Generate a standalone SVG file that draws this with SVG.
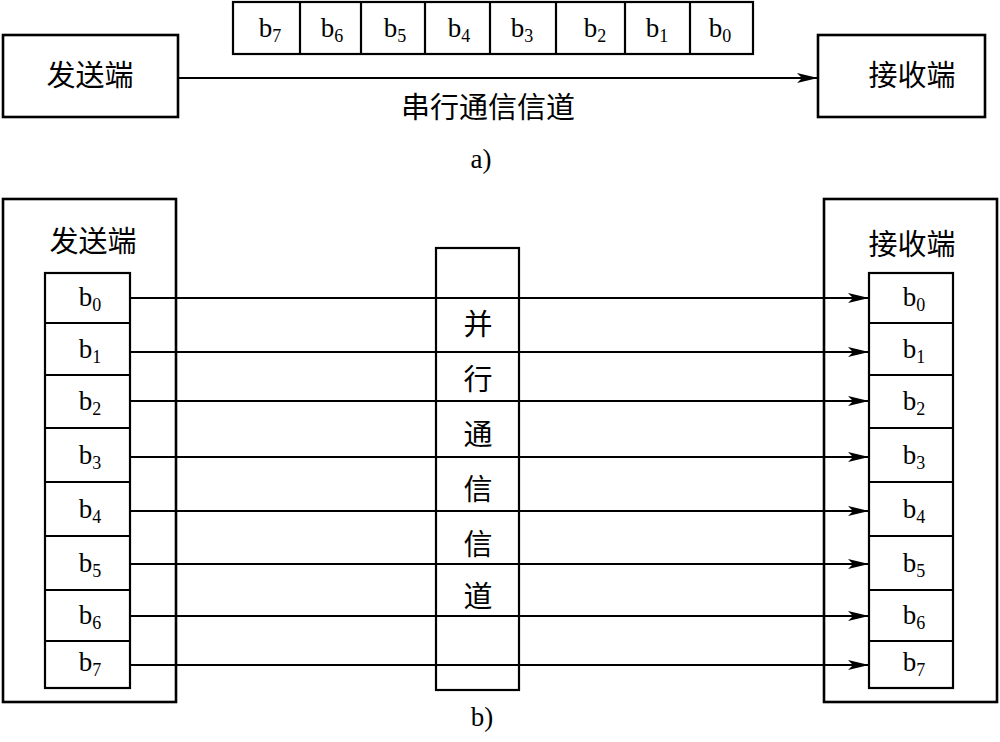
<svg xmlns="http://www.w3.org/2000/svg" width="1000" height="742" viewBox="0 0 1000 742">
<style>
.box{fill:none;stroke:#000;stroke-width:2.6}
.cell{fill:none;stroke:#000;stroke-width:2.2}
.ln{stroke:#000;stroke-width:2;fill:none}
.t{font-family:"Liberation Serif","Noto Sans CJK SC",serif;font-size:27px;fill:#000;text-anchor:middle}
.cn{font-family:"Noto Sans CJK SC","Liberation Serif",sans-serif;font-size:29px;fill:#000;text-anchor:middle}
.s{font-size:18px}
</style>
<defs>
<marker id="ar" markerUnits="userSpaceOnUse" markerWidth="22" markerHeight="10" refX="21" refY="5" orient="auto">
<path d="M0,0 L21,5 L0,10 L5,5 Z" fill="#000"/>
</marker>
</defs>
<rect width="1000" height="742" fill="#fff"/>

<g id="a-sender">
<rect class="box" x="3" y="35" width="175" height="82"/>
<text class="cn" x="90" y="86">发送端</text>
</g>
<g id="a-receiver">
<rect class="box" x="818" y="35" width="167" height="82"/>
<text class="cn" x="912" y="86">接收端</text>
</g>
<g id="a-register">
<rect class="cell" x="233" y="2" width="520" height="52"/>
<line class="cell" x1="300" y1="2" x2="300" y2="54"/>
<line class="cell" x1="361" y1="2" x2="361" y2="54"/>
<line class="cell" x1="425" y1="2" x2="425" y2="54"/>
<line class="cell" x1="490" y1="2" x2="490" y2="54"/>
<line class="cell" x1="556" y1="2" x2="556" y2="54"/>
<line class="cell" x1="625" y1="2" x2="625" y2="54"/>
<line class="cell" x1="690" y1="2" x2="690" y2="54"/>
<text class="t" x="270" y="37">b<tspan class="s" dy="5">7</tspan></text>
<text class="t" x="332" y="37">b<tspan class="s" dy="5">6</tspan></text>
<text class="t" x="395" y="37">b<tspan class="s" dy="5">5</tspan></text>
<text class="t" x="459" y="37">b<tspan class="s" dy="5">4</tspan></text>
<text class="t" x="522" y="37">b<tspan class="s" dy="5">3</tspan></text>
<text class="t" x="595" y="37">b<tspan class="s" dy="5">2</tspan></text>
<text class="t" x="657" y="37">b<tspan class="s" dy="5">1</tspan></text>
<text class="t" x="720" y="37">b<tspan class="s" dy="5">0</tspan></text>
</g>
<text class="cn" x="488" y="118">串行通信信道</text>
<text class="t" x="481" y="168">a)</text>

<g id="b-sender">
<rect class="box" x="3" y="199" width="173" height="503"/>
<text class="cn" x="93" y="252">发送端</text>
<rect class="cell" x="45" y="273" width="85" height="415"/>
<line class="cell" x1="45" y1="323" x2="130" y2="323"/>
<line class="cell" x1="45" y1="375" x2="130" y2="375"/>
<line class="cell" x1="45" y1="428" x2="130" y2="428"/>
<line class="cell" x1="45" y1="482" x2="130" y2="482"/>
<line class="cell" x1="45" y1="536" x2="130" y2="536"/>
<line class="cell" x1="45" y1="590" x2="130" y2="590"/>
<line class="cell" x1="45" y1="641" x2="130" y2="641"/>
<text class="t" x="90" y="306">b<tspan class="s" dy="5">0</tspan></text>
<text class="t" x="90" y="358">b<tspan class="s" dy="5">1</tspan></text>
<text class="t" x="90" y="410">b<tspan class="s" dy="5">2</tspan></text>
<text class="t" x="90" y="464">b<tspan class="s" dy="5">3</tspan></text>
<text class="t" x="90" y="518">b<tspan class="s" dy="5">4</tspan></text>
<text class="t" x="90" y="572">b<tspan class="s" dy="5">5</tspan></text>
<text class="t" x="90" y="624">b<tspan class="s" dy="5">6</tspan></text>
<text class="t" x="90" y="671">b<tspan class="s" dy="5">7</tspan></text>
</g>

<g id="b-channel">
<rect class="cell" x="436" y="248" width="83" height="442"/>
<text class="cn" x="478" y="335">并</text>
<text class="cn" x="478" y="390">行</text>
<text class="cn" x="478" y="445">通</text>
<text class="cn" x="478" y="500">信</text>
<text class="cn" x="478" y="555">信</text>
<text class="cn" x="478" y="607">道</text>
</g>

<g id="b-receiver">
<rect class="box" x="824" y="199" width="173" height="503"/>
<text class="cn" x="912" y="255">接收端</text>
<rect class="cell" x="869" y="273" width="84" height="415"/>
<line class="cell" x1="869" y1="323" x2="953" y2="323"/>
<line class="cell" x1="869" y1="375" x2="953" y2="375"/>
<line class="cell" x1="869" y1="428" x2="953" y2="428"/>
<line class="cell" x1="869" y1="482" x2="953" y2="482"/>
<line class="cell" x1="869" y1="536" x2="953" y2="536"/>
<line class="cell" x1="869" y1="590" x2="953" y2="590"/>
<line class="cell" x1="869" y1="641" x2="953" y2="641"/>
<text class="t" x="914" y="306">b<tspan class="s" dy="5">0</tspan></text>
<text class="t" x="914" y="358">b<tspan class="s" dy="5">1</tspan></text>
<text class="t" x="914" y="410">b<tspan class="s" dy="5">2</tspan></text>
<text class="t" x="914" y="464">b<tspan class="s" dy="5">3</tspan></text>
<text class="t" x="914" y="518">b<tspan class="s" dy="5">4</tspan></text>
<text class="t" x="914" y="572">b<tspan class="s" dy="5">5</tspan></text>
<text class="t" x="914" y="624">b<tspan class="s" dy="5">6</tspan></text>
<text class="t" x="914" y="671">b<tspan class="s" dy="5">7</tspan></text>
</g>
<text class="t" x="482" y="726">b)</text>

<g id="connectors">
<line class="ln" x1="178" y1="78" x2="818" y2="78" marker-end="url(#ar)"/>
<line class="ln" x1="130" y1="298" x2="869" y2="298" marker-end="url(#ar)"/>
<line class="ln" x1="130" y1="352" x2="869" y2="352" marker-end="url(#ar)"/>
<line class="ln" x1="130" y1="401" x2="869" y2="401" marker-end="url(#ar)"/>
<line class="ln" x1="130" y1="457" x2="869" y2="457" marker-end="url(#ar)"/>
<line class="ln" x1="130" y1="511" x2="869" y2="511" marker-end="url(#ar)"/>
<line class="ln" x1="130" y1="564" x2="869" y2="564" marker-end="url(#ar)"/>
<line class="ln" x1="130" y1="616" x2="869" y2="616" marker-end="url(#ar)"/>
<line class="ln" x1="130" y1="665" x2="869" y2="665" marker-end="url(#ar)"/>
</g>
</svg>
